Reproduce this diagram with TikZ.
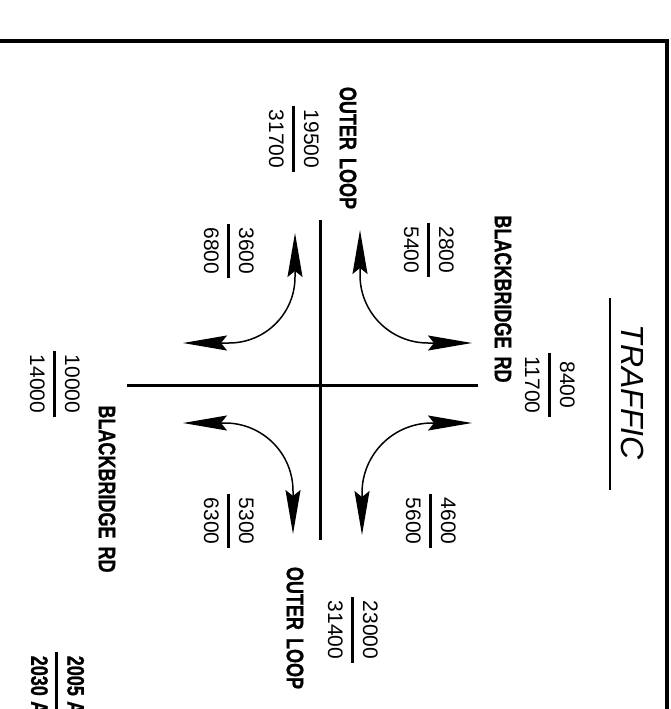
\documentclass[tikz,border=0pt]{standalone}
\usepackage{fontspec}
\setmainfont{Liberation Sans}
\newfontfamily\roadfont[FakeBold=1.2]{Liberation Sans}
\usetikzlibrary{arrows.meta}
\setlength{\arrayrulewidth}{3pt}
\setlength{\tabcolsep}{4pt}
\renewcommand{\arraystretch}{1.28}
\newcommand{\volpair}[2]{\begin{tabular}{c}#1\\\hline #2\end{tabular}}
\newcommand{\roadname}[1]{\scalebox{0.76}[1]{\roadfont\bfseries #1}}

\begin{document}
\begin{tikzpicture}[y=1pt,x=1pt,yscale=-1,inner sep=0pt,outer sep=0pt,
  vol/.style={rotate=-90,font=\fontsize{21}{25}\selectfont},
  road/.style={rotate=-90,font=\fontsize{23.7}{26}\selectfont},
  turn/.style={draw=black,line width=1.5pt,
    {Stealth[length=44pt,width=15pt,inset=6pt]}-{Stealth[length=44pt,width=15pt,inset=6pt]}}]
\clip (0,0) rectangle (670,709);

  % frame
  \path[draw=black,line width=3.5pt,line join=miter] (-5,41) -- (667,41) -- (667,715);
  \path (633,392) node[rotate=-90,font=\fontsize{32}{36}\selectfont\itshape]
    (text-traffic) {TRAFFIC};
  \path[draw=black,line width=2pt] (610,298) -- (610,490);

  % roads
  \path[draw=black,line width=3pt] (127,385) -- (478,385);
  \path[draw=black,line width=3pt] (320,220) -- (320,540);

  % turning movements
  \path[turn] (295,233) -- (295,277) arc[start angle=0,end angle=90,radius=66] -- (183,343);
  \path[turn] (360,230) -- (360,275) arc[start angle=180,end angle=90,radius=68] -- (472,343);
  \path[turn] (183,423) -- (225,423) arc[start angle=270,end angle=360,radius=68] -- (293,534);
  \path[turn] (362,535) -- (362,493) arc[start angle=180,end angle=270,radius=70] -- (472,423);

  % volumes
  \path (549,385) node[vol] (text8400) {\volpair{8400}{11700}};
  \path (293,139) node[vol] (text19500) {\volpair{19500}{31700}};
  \path (428,250) node[vol] (text2800) {\volpair{2800}{5400}};
  \path (228,251) node[vol] (text3600) {\volpair{3600}{6800}};
  \path (228,521) node[vol] (text5300) {\volpair{5300}{6300}};
  \path (430,521) node[vol] (text4600) {\volpair{4600}{5600}};
  \path (54,384) node[vol] (text10000) {\volpair{10000}{14000}};
  \path (352,630) node[vol] (text23000) {\volpair{23000}{31400}};

  % street names
  \path (503,299) node[road] (text-bb-e) {\roadname{BLACKBRIDGE\hspace{0.45em}RD}};
  \path (348,148) node[road] (text-ol-n) {\roadname{OUTER\hspace{0.45em}LOOP}};
  \path (107,489) node[road] (text-bb-w) {\roadname{BLACKBRIDGE\hspace{0.45em}RD}};
  \path (295,628) node[road] (text-ol-s) {\roadname{OUTER\hspace{0.45em}LOOP}};

  % legend
  \path (56,697) node[road] (text-adt) {\volpair{\roadname{2005\hspace{0.3em}ADT}}{\roadname{2030\hspace{0.3em}ADT}}};
\end{tikzpicture}
\end{document}
